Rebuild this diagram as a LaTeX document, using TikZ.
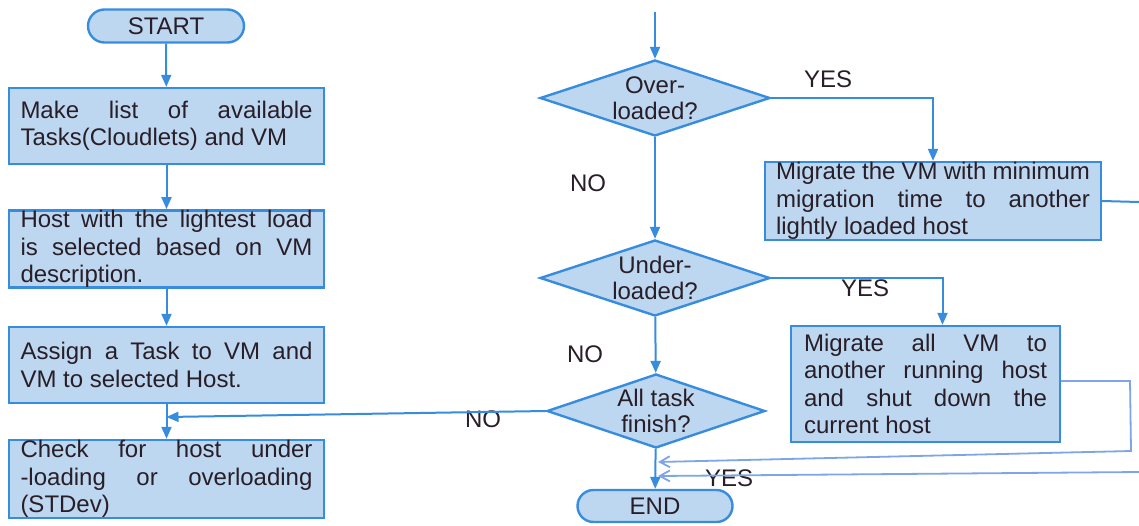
\documentclass[tikz,border=0pt]{standalone}
\usepackage{fontspec}
\setmainfont{Liberation Sans}
\usetikzlibrary{shapes.geometric,shapes.misc,arrows.meta}
\definecolor{boxfill}{RGB}{189,215,240}
\definecolor{boxline}{RGB}{55,140,222}
\definecolor{lightline}{RGB}{125,165,232}
\definecolor{txt}{RGB}{40,30,40}
\begin{document}
\begin{tikzpicture}[x=1pt,y=-1pt,
  font=\fontsize{24}{27.5}\selectfont, text=txt,
  proc/.style={draw=boxline, fill=boxfill, line width=2.4pt, rectangle, inner sep=0pt, align=justify},
  term/.style={draw=boxline, fill=boxfill, line width=2.4pt, rounded rectangle, inner sep=0pt, minimum height=33pt, minimum width=156pt},
  dec/.style={draw=boxline, fill=boxfill, line width=2.4pt, diamond, aspect=3, inner sep=0pt, align=center, font=\fontsize{24}{25.5}\selectfont},
  conn/.style={draw=boxline, line width=2pt, -{Triangle[width=10pt,length=12pt]}},
  plainconn/.style={draw=boxline, line width=2pt},
  back/.style={draw=lightline, line width=1.8pt, -{Straight Barb[width=11pt,length=10pt]}},
  lbl/.style={inner sep=0pt}]
\useasboundingbox (0,0) rectangle (1139,525);
% left column
\node[term] (start) at (166,26) {START};
\node[proc, minimum width=315pt, minimum height=76pt, text width=292pt] (make) at (166.5,126)
  {Make list of available\linebreak Tasks(Cloudlets) and VM};
\node[proc, minimum width=315pt, minimum height=76pt, text width=292pt] (host) at (166.5,249)
  {Host with the lightest load\linebreak is selected based on VM\linebreak description.};
\node[proc, minimum width=315pt, minimum height=76pt, text width=292pt] (assign) at (166.5,365)
  {Assign a Task to VM and\linebreak VM to selected Host.};
\node[proc, minimum width=315pt, minimum height=78pt, text width=292pt] (check) at (166.5,479)
  {Check for host under\linebreak -loading or overloading\linebreak (STDev)};
% right column
\node[dec, minimum width=230pt, minimum height=76pt] (over) at (655,98) {Over-\\loaded?};
\node[dec, minimum width=230pt, minimum height=76pt] (under) at (655,278) {Under-\\loaded?};
\node[dec, minimum width=218pt, minimum height=74pt] (all) at (656,411) {All task\\finish?};
\node[term, minimum width=155pt, minimum height=32pt] (end) at (655,506) {END};
\node[proc, minimum width=336pt, minimum height=78pt, text width=314pt] (mig1) at (933,201)
  {Migrate the VM with minimum\linebreak migration time to another\linebreak lightly loaded host};
\node[proc, minimum width=269pt, minimum height=116pt, text width=243pt] (mig2) at (925.5,384)
  {Migrate all VM to\linebreak another running host\linebreak and shut down the\linebreak current host};
% labels
\node[lbl] (yes1) at (828,79) {YES};
\node[lbl] (no1) at (588,183) {NO};
\node[lbl] (yes2) at (865,288) {YES};
\node[lbl] (no2) at (585,354) {NO};
\node[lbl] (no3) at (483,419) {NO};
\node[lbl] (yes3) at (729,478) {YES};
% coordinates
\coordinate (topin) at (655,12);
\coordinate (join) at (166.5,417);
\coordinate (mig1out) at (1139,202);
\coordinate (c1) at (1130,381);
\coordinate (c2) at (1131,451);
\coordinate (r1) at (658,462);
\coordinate (c3) at (1139,472);
\coordinate (r2) at (658,476);
% connectors
\draw[conn] (start) -- (make);
\draw[conn] (make) -- (host);
\draw[conn] (host) -- (assign);
\draw[conn] (assign) -- (check);
\draw[conn] (topin) -- (over);
\draw[conn] (over.east) -| (mig1.north);
\draw[conn] (over) -- (under);
\draw[conn] (under.east) -| ([xshift=17pt]mig2.north);
\draw[conn] (under) -- (all);
\draw[conn] (all.west) -- (join);
\draw[conn] (all) -- (end);
\draw[plainconn] (mig1.east) -- (mig1out);
\draw[back] (mig2.east |- c1) -- (c1) -- (c2) -- (r1);
\draw[back] (c3) -- (r2);
\end{tikzpicture}
\end{document}
